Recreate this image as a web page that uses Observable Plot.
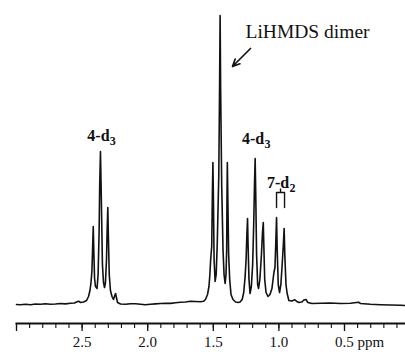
<!DOCTYPE html>
<html>
<head>
<meta charset="utf-8">
<script src="https://cdn.jsdelivr.net/npm/d3@7"></script>
<script src="https://cdn.jsdelivr.net/npm/@observablehq/plot@0.6"></script>
<style>
  html, body { margin: 0; padding: 0; background: #fff; }
  #chart svg { display: block; }
</style>
</head>
<body>
<div id="chart"></div>
<script>
// Chemical shift (ppm) of traced points along the spectrum
const ppm = [
  3.000, 2.970, 2.931, 2.893, 2.855, 2.817, 2.779, 2.741, 2.703, 2.665, 2.627, 2.588,
  2.558, 2.543, 2.527, 2.512, 2.489, 2.466, 2.451, 2.440, 2.432, 2.425, 2.419, 2.415,
  2.411, 2.405, 2.398, 2.386, 2.378, 2.370, 2.366, 2.360, 2.354, 2.345, 2.337, 2.329,
  2.322, 2.314, 2.309, 2.304, 2.300, 2.293, 2.284, 2.272, 2.261, 2.251, 2.245, 2.240,
  2.230, 2.207, 2.169, 2.131, 2.093, 2.055, 2.017, 1.979, 1.941, 1.902, 1.864, 1.826,
  1.788, 1.750, 1.712, 1.674, 1.636, 1.598, 1.575, 1.560, 1.544, 1.533, 1.526, 1.520,
  1.512, 1.507, 1.503, 1.499, 1.494, 1.486, 1.478, 1.470, 1.458, 1.452, 1.448, 1.444,
  1.436, 1.426, 1.418, 1.410, 1.403, 1.398, 1.396, 1.393, 1.389, 1.383, 1.375, 1.365,
  1.350, 1.330, 1.310, 1.296, 1.280, 1.268, 1.258, 1.250, 1.244, 1.239, 1.235, 1.228,
  1.220, 1.210, 1.200, 1.192, 1.186, 1.181, 1.177, 1.170, 1.162, 1.155, 1.145, 1.133,
  1.125, 1.119, 1.115, 1.108, 1.098, 1.083, 1.068, 1.053, 1.038, 1.030, 1.024, 1.018,
  1.013, 1.005, 0.995, 0.985, 0.975, 0.966, 0.960, 0.955, 0.946, 0.937, 0.924, 0.901,
  0.878, 0.863, 0.848, 0.825, 0.810, 0.794, 0.779, 0.748, 0.683, 0.607, 0.530, 0.454,
  0.393, 0.378, 0.302, 0.226, 0.149, 0.073, 0.035
];
// Signal intensity (arbitrary units) read at each traced point
const intensity = [
  0, -0.3, 0.2, -0.2, 0.5, 0.3, 0.8, 0.2, 0.5, 1.0, 0.6, 1.2,
  1.5, 2.5, 3.3, 2.0, 2.5, 4, 8, 14, 22, 34, 60, 78,
  55, 26, 18, 16, 30, 75, 118, 153, 110, 40, 22, 17,
  22, 45, 75, 97, 70, 30, 14, 8, 5, 9, 11, 8,
  2, 0.5, 0.2, 0.8, 0.7, 0.2, -0.3, 0.2, 0.6, 1.0, 1.3, 1.1,
  1.8, 2.2, 2.5, 3.2, 3.0, 2.8, 3.2, 5, 10, 18, 30, 45,
  58, 110, 142, 105, 45, 23, 30, 60, 130, 220, 289, 215,
  120, 55, 30, 21, 30, 55, 100, 142, 105, 50, 25, 10,
  5, 2.5, 2, 2.5, 5, 12, 27, 45, 70, 86, 60, 25,
  11, 18, 40, 80, 120, 146, 115, 50, 20, 16, 25, 50,
  72, 82, 60, 25, 12, 8, 10, 16, 32, 37, 60, 87,
  55, 20, 12, 20, 40, 60, 76, 50, 20, 11, 4, 3.5,
  4.7, 3, 2, 2.5, 4.5, 5, 2, 1, 1.3, 1.5, 1.0, 1.2,
  2.3, 1.0, 0.2, -0.2, -0.5, -0.8, -1.0
];

// Axis ticks and labels
const majorTicks = [3.0, 2.5, 2.0, 1.5, 1.0, 0.5];
const minorTicks = d3.range(30, 0, -1).map(d => d / 10);
const tickLabels = ["2.5", "2.0", "1.5", "1.0", "0.5"];
const tickLabelPpm = [2.5, 2.0, 1.5, 1.0, 0.5];
const unitLabel = "ppm";

// Peak annotations
const labelText = ["4-d", "4-d", "7-d"];
const labelSub = ["3", "3", "2"];
const labelPpm = [2.460, 1.282, 1.091];
const labelLevel = [164, 161, 117];

const bracketPpm = [1.018, 0.957];
const bracketLevels = [97, 112, 115.5];

const arrowText = "LiHMDS dimer";
const arrowTextPos = [1.2546, 266.7];
const arrowFrom = [1.2165, 256];
const arrowTo = [1.3537, 238];

const spectrum = ppm.map((x, i) => ({x, y: intensity[i]}));
const labels = labelText.map((t, i) => ({x: labelPpm[i], y: labelLevel[i], t, s: labelSub[i]}));
const bracket = [
  {x: bracketPpm[0], y: bracketLevels[0]},
  {x: bracketPpm[0], y: bracketLevels[1]},
  {x: bracketPpm[1], y: bracketLevels[1]},
  {x: bracketPpm[1], y: bracketLevels[0]}
];
const stemX = (bracketPpm[0] + bracketPpm[1]) / 2;

const serif = "Liberation Serif, Times New Roman, serif";

const chart = Plot.plot({
  width: 405,
  height: 352,
  marginLeft: 16,
  marginRight: 0,
  marginTop: 15,
  marginBottom: 29,
  style: {fontFamily: serif, fontSize: "15px", background: "#fff", color: "#111"},
  x: {domain: [3.0, 0.035], label: null},
  y: {domain: [-19, 289], axis: null},
  marks: [
    Plot.frame({anchor: "bottom", strokeWidth: 2, stroke: "#111"}),
    Plot.axisX(minorTicks, {tickSize: 5, tickFormat: () => "", stroke: "#111", strokeWidth: 1.1}),
    Plot.axisX(majorTicks, {tickSize: 8, tickFormat: () => "", stroke: "#111", strokeWidth: 1.3}),
    Plot.text(tickLabels, {x: (d, i) => tickLabelPpm[i], text: d => d, frameAnchor: "bottom", dy: 23.5, lineAnchor: "bottom", fontSize: 15, fill: "#111"}),
    Plot.text([unitLabel], {x: tickLabelPpm[4], text: d => d, frameAnchor: "bottom", dx: 13, dy: 23.5, lineAnchor: "bottom", textAnchor: "start", fontSize: 15, fill: "#111"}),
    Plot.line(spectrum, {x: "x", y: "y", stroke: "#111", strokeWidth: 1.6, strokeLinejoin: "round"}),
    Plot.text(labels, {x: "x", y: "y", text: "t", textAnchor: "start", lineAnchor: "bottom", fontSize: 16, fontWeight: "bold", fill: "#111"}),
    Plot.text(labels, {x: "x", y: "y", text: "s", textAnchor: "start", lineAnchor: "bottom", dx: 22.5, dy: 4, fontSize: 12, fontWeight: "bold", fill: "#111"}),
    Plot.line(bracket, {x: "x", y: "y", stroke: "#111", strokeWidth: 1.4}),
    Plot.ruleX([stemX], {y1: bracketLevels[1], y2: bracketLevels[2], stroke: "#111", strokeWidth: 1.4}),
    Plot.text([arrowText], {x: arrowTextPos[0], y: arrowTextPos[1], text: d => d, textAnchor: "start", lineAnchor: "bottom", fontSize: 19.5, fill: "#111"}),
    Plot.arrow([0], {x1: arrowFrom[0], y1: arrowFrom[1], x2: arrowTo[0], y2: arrowTo[1], stroke: "#111", strokeWidth: 1.7, headLength: 7, headAngle: 50})
  ]
});
document.getElementById("chart").appendChild(chart);
</script>
</body>
</html>
